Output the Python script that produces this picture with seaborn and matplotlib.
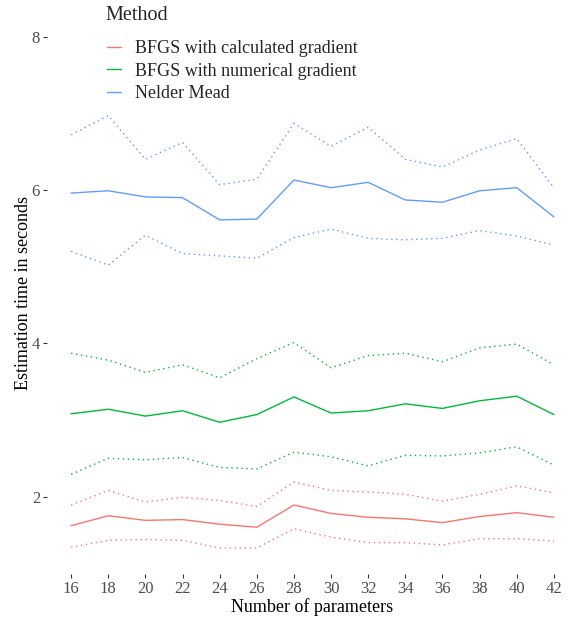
import numpy as np
import pandas as pd
import matplotlib
matplotlib.use("Agg")
import matplotlib.pyplot as plt
from matplotlib.lines import Line2D
import seaborn as sns

# values
n_params = [16, 18, 20, 22, 24, 26, 28, 30, 32, 34, 36, 38, 40, 42]
methods = ["BFGS with calculated gradient", "BFGS with numerical gradient", "Nelder Mead"]

calc_mean = [1.62, 1.75, 1.69, 1.70, 1.64, 1.60, 1.89, 1.78, 1.73, 1.71, 1.66, 1.74, 1.79, 1.73]
calc_upper = [1.89, 2.08, 1.93, 1.99, 1.95, 1.87, 2.19, 2.08, 2.06, 2.03, 1.94, 2.03, 2.14, 2.05]
calc_lower = [1.34, 1.43, 1.44, 1.43, 1.33, 1.33, 1.58, 1.47, 1.40, 1.40, 1.37, 1.45, 1.45, 1.42]

num_mean = [3.08, 3.14, 3.05, 3.12, 2.97, 3.07, 3.30, 3.09, 3.12, 3.21, 3.15, 3.25, 3.31, 3.07]
num_upper = [3.87, 3.78, 3.62, 3.72, 3.55, 3.80, 4.01, 3.68, 3.84, 3.87, 3.76, 3.94, 3.99, 3.72]
num_lower = [2.29, 2.50, 2.48, 2.51, 2.38, 2.36, 2.58, 2.52, 2.40, 2.54, 2.53, 2.57, 2.65, 2.41]

nm_mean = [5.96, 5.99, 5.91, 5.90, 5.61, 5.62, 6.13, 6.03, 6.10, 5.87, 5.84, 5.99, 6.03, 5.65]
nm_upper = [6.72, 6.97, 6.40, 6.62, 6.07, 6.14, 6.87, 6.57, 6.82, 6.40, 6.30, 6.52, 6.67, 6.03]
nm_lower = [5.20, 5.02, 5.41, 5.17, 5.14, 5.11, 5.38, 5.49, 5.37, 5.35, 5.37, 5.47, 5.40, 5.28]

y_ticks = [2, 4, 6, 8]
colors = ["#F8766D", "#00BA38", "#619CFF"]

series = {
    methods[0]: {"mean": calc_mean, "upper": calc_upper, "lower": calc_lower},
    methods[1]: {"mean": num_mean, "upper": num_upper, "lower": num_lower},
    methods[2]: {"mean": nm_mean, "upper": nm_upper, "lower": nm_lower},
}
rows = []
for m, parts in series.items():
    for bound, vals in parts.items():
        for x, v in zip(n_params, vals):
            rows.append({"params": x, "time": v, "Method": m, "bound": bound})
df = pd.DataFrame(rows)

sns.set_style("white")
plt.rcParams["font.family"] = ["Liberation Serif", "DejaVu Serif"]

W, H = 572, 626
fig = plt.figure(figsize=(W / 100, H / 100), dpi=100)
ax = fig.add_axes([47 / W, (H - 574) / H, 531 / W, (574 - 11.4) / H])

sns.lineplot(data=df, x="params", y="time", hue="Method", style="bound",
             hue_order=methods, palette=colors,
             style_order=["mean", "upper", "lower"],
             dashes={"mean": "", "upper": (1, 2.6), "lower": (1, 2.6)},
             errorbar=None, linewidth=1.0, legend=False, ax=ax)

ax.set_xlim(14.7, 43.3)
ax.set_ylim(0.99, 8.33)
ax.set_xticks(n_params)
ax.set_yticks(y_ticks)
ax.tick_params(axis="both", which="both", direction="out", length=3, width=0.8,
               color="#333333", labelcolor="#4D4D4D", labelsize=12, pad=2)
ax.tick_params(left=True, bottom=True)
for s in ax.spines.values():
    s.set_visible(False)
ax.set_xlabel("Number of parameters", fontsize=13, color="black", labelpad=1)
ax.set_ylabel("Estimation time in seconds", fontsize=13, color="black", labelpad=0)

# legend title drawn separately so the gap to the entries matches
fig.text(105 / W, 1 - 15 / H, "Method", fontsize=14.5, va="center", ha="left")
handles = [Line2D([], [], color=c, lw=1.0) for c in colors]
leg = fig.legend(handles, methods, loc="upper left",
                 bbox_to_anchor=(107 / W, 1 - 40 / H), frameon=False,
                 fontsize=13, borderpad=0, borderaxespad=0,
                 handlelength=0.8, handletextpad=0.75, labelspacing=0.31)

fig.savefig("out.png", dpi=100)
